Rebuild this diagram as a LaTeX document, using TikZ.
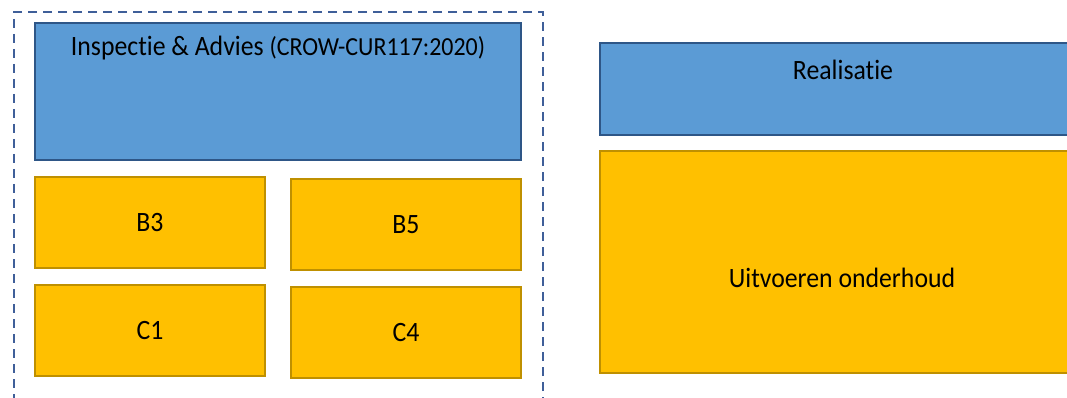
\documentclass[tikz,border=0pt]{standalone}
\usepackage{fontspec}
\setmainfont[FakeStretch=0.92,RawFeature=-liga]{Carlito}
\usepackage{tikz}
\usetikzlibrary{positioning}
\definecolor{blauw}{HTML}{5B9BD5}
\definecolor{blauwrand}{HTML}{2E5687}
\definecolor{oranje}{HTML}{FFC000}
\definecolor{oranjerand}{HTML}{BF9000}
\definecolor{kaderblauw}{HTML}{3F5F99}
\tikzset{
  fase/.style={draw=blauwrand, fill=blauw, line width=2pt, inner sep=0pt},
  klasse/.style={draw=oranjerand, fill=oranje, line width=2pt, inner sep=0pt,
    minimum width=230pt, minimum height=91pt, font=\fontsize{28}{32}\selectfont},
  kaderlijn/.style={draw=kaderblauw, line width=2pt, dash pattern=on 9pt off 6pt, inner sep=0pt},
  tekst/.style={inner sep=0pt, font=\fontsize{28}{32}\selectfont}
}

\begin{document}
\begin{tikzpicture}[x=1pt,y=-1pt]
\useasboundingbox (0,0) rectangle (1067,398);
\clip (0,0) rectangle (1067,398);
% kader om inspectie
\node[kaderlijn, minimum width=529pt, minimum height=420pt] (kader) at (278.5,222) {};
% inspectie en advies
\node[fase, minimum width=486pt, minimum height=137pt] (insp) at (278,91.5) {};
\node[tekst] (insptekst) at (278,48) {Inspectie \& Advies {\fontsize{26}{30}\selectfont(CROW-CUR117:2020)}};
\node[klasse] (bdrie) at (150,222.5) {B3};
\node[klasse] (bvijf) at (406,224.5) {B5};
\node[klasse] (ceen) at (150,330.5) {C1};
\node[klasse] (cvier) at (406,332.5) {C4};
% realisatie
\node[fase, minimum width=486pt, minimum height=92pt] (real) at (843,89) {};
\node[tekst] (realtekst) at (843,70) {Realisatie};
\node[klasse, minimum width=486pt, minimum height=222pt] (uitv) at (843,262) {};
\node[tekst] (uitvtekst) at (842,278) {Uitvoeren onderhoud};
\end{tikzpicture}
\end{document}
